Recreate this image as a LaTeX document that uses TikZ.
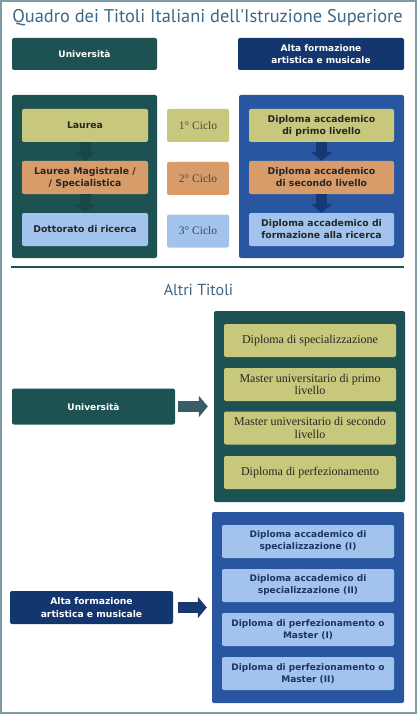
\documentclass[tikz,border=0pt]{standalone}
\usepackage{fontspec}
\setmainfont{Liberation Serif}
\newfontfamily\titlefont{PT Sans}
\newfontfamily\boxfont{DejaVu Sans}
\usetikzlibrary{arrows.meta}
\definecolor{teal}{HTML}{1E5252}
\definecolor{navy}{HTML}{14366E}
\definecolor{midblue}{HTML}{2856A0}
\definecolor{olive}{HTML}{C8C87D}
\definecolor{peach}{HTML}{D89C6A}
\definecolor{sky}{HTML}{A2C4EC}
\definecolor{titleblue}{HTML}{3C6788}
\definecolor{frame}{HTML}{7E9CA4}
\definecolor{darktext}{HTML}{262626}
\definecolor{navytext}{HTML}{1C3462}
\tikzstyle{blockarrow} = [line width=11pt,-{Triangle[width=21pt,length=9pt]}]

\begin{document}
\begin{tikzpicture}[
    x=1pt, y=-1pt,
    panel/.style={rounded corners=2pt, inner sep=0pt},
    headbox/.style={panel, text=white, align=center, font=\boxfont\bfseries\fontsize{9}{12}\selectfont},
    cell/.style={panel, align=center, text=darktext, font=\boxfont\bfseries\fontsize{9.3}{12}\selectfont, minimum height=33pt},
    cycle/.style={panel, text=darktext!85, font=\fontsize{11.5}{13}\selectfont, minimum width=62pt, minimum height=33pt},
    titlecell/.style={panel, fill=olive, text=darktext, align=center, font=\fontsize{12}{12.5}\selectfont, minimum width=172pt, minimum height=33pt},
    bluecell/.style={panel, fill=sky, text=navytext, align=center, font=\boxfont\bfseries\fontsize{9}{12}\selectfont, minimum width=172pt, minimum height=33pt},
  ]
  % page and frame
  \useasboundingbox (0,0) rectangle (417,714);
  \fill[white] (0,0) rectangle (417,714);
  \draw[frame, line width=2pt] (1,1) rectangle (416,713);
  \node[text=titleblue, font=\titlefont\fontsize{18.4}{20}\selectfont] (title) at (207.5,18) {Quadro dei Titoli Italiani dell'Istruzione Superiore};
  % headers
  \node[headbox, fill=teal, minimum width=145pt, minimum height=32pt] (unihead) at (84.5,54) {Università};
  \node[headbox, fill=navy, minimum width=166pt, minimum height=32pt] (afamhead) at (321,54) {Alta formazione\\artistica e musicale};
  % cycles
  \node[panel, fill=teal, minimum width=145pt, minimum height=163pt] (unibox) at (84.5,176.5) {};
  \node[panel, fill=midblue, minimum width=165pt, minimum height=163pt] (afambox) at (321.5,176.5) {};
  \node[cell, fill=olive, minimum width=126pt] (laurea) at (85,125.5) {Laurea};
  \node[cell, fill=peach, minimum width=126pt] (magistrale) at (85,177.5) {Laurea Magistrale /\\/ Specialistica};
  \node[cell, fill=sky, minimum width=126pt] (dottorato) at (85,229.5) {Dottorato di ricerca};
  \node[cycle, fill=olive] (ciclo1) at (198,125.5) {1° Ciclo};
  \node[cycle, fill=peach] (ciclo2) at (198,178.5) {2° Ciclo};
  \node[cycle, fill=sky] (ciclo3) at (198,231) {3° Ciclo};
  \node[cell, fill=olive, minimum width=145pt] (primo) at (321.5,125.5) {Diploma accademico\\di primo livello};
  \node[cell, fill=peach, minimum width=145pt] (secondo) at (321.5,177.5) {Diploma accademico\\di secondo livello};
  \node[cell, fill=sky, minimum width=145pt] (ricerca) at (321.5,229.5) {Diploma accademico di\\formazione alla ricerca};
  \draw[blockarrow, teal!85!black] (laurea) -- (magistrale);
  \draw[blockarrow, teal!85!black] (magistrale) -- (dottorato);
  \draw[blockarrow, navy!90!midblue] (primo) -- (secondo);
  \draw[blockarrow, navy!90!midblue] (secondo) -- (ricerca);
  % separator
  \coordinate (sepL) at (11,267);
  \coordinate (sepR) at (404,267);
  \draw[teal, line width=1.2pt] (sepL) -- (sepR);
  \node[text=titleblue, font=\titlefont\fontsize{16}{18}\selectfont] (altri) at (198.5,290) {Altri Titoli};
  % other university titles
  \node[panel, fill=teal, minimum width=191pt, minimum height=191pt] (unialtri) at (309.5,406.5) {};
  \node[titlecell] (spec) at (310,340.5) {Diploma di specializzazione};
  \node[titlecell] (master1) at (310,384.5) {Master universitario di primo\\livello};
  \node[titlecell] (master2) at (310,428) {Master universitario di secondo\\livello};
  \node[titlecell] (perf) at (310,472.5) {Diploma di perfezionamento};
  \node[headbox, fill=teal, minimum width=163pt, minimum height=36pt] (unibot) at (93.5,406.5) {Università};
  \draw[blockarrow, teal!70!sky!80!black, shorten <=3pt, shorten >=6pt] (unibot) -- (unialtri);
  % other afam titles
  \node[panel, fill=midblue, minimum width=192pt, minimum height=191pt] (afamaltri) at (308,607.5) {};
  \node[bluecell] (specI) at (308,541.5) {Diploma accademico di\\specializzazione (I)};
  \node[bluecell] (specII) at (308,585.5) {Diploma accademico di\\specializzazione (II)};
  \node[bluecell] (perfI) at (308,629.5) {Diploma di perfezionamento o\\Master (I)};
  \node[bluecell] (perfII) at (308,673.5) {Diploma di perfezionamento o\\Master (II)};
  \node[headbox, fill=navy, minimum width=163pt, minimum height=33pt, font=\boxfont\bfseries\fontsize{9.2}{13}\selectfont] (afambot) at (91.5,607.5) {Alta formazione\\artistica e musicale};
  \draw[blockarrow, navy!90!midblue, shorten <=5pt, shorten >=5pt] (afambot) -- (afamaltri);
\end{tikzpicture}
\end{document}
